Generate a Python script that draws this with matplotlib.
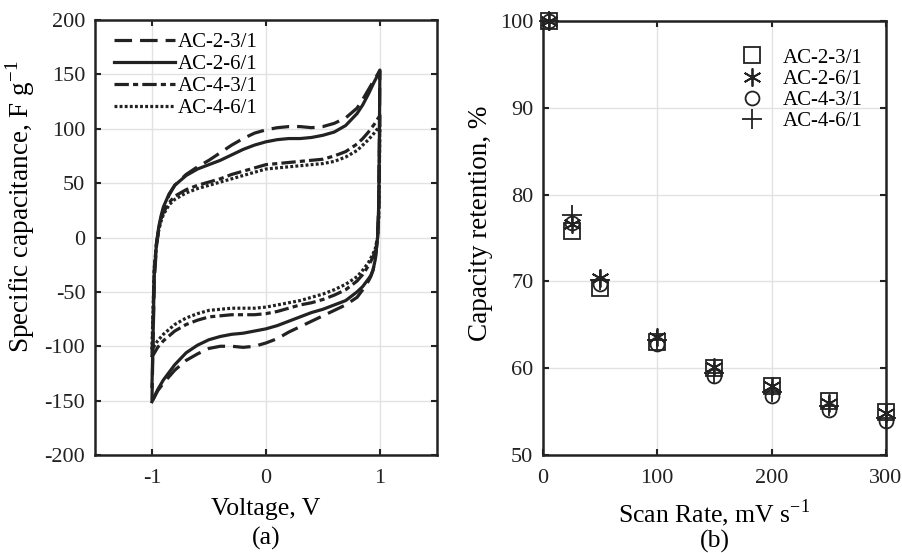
import matplotlib
matplotlib.use("Agg")
import matplotlib.pyplot as plt

plt.rcParams['font.family'] = ['Liberation Serif', 'DejaVu Serif']
plt.rcParams['mathtext.fontset'] = 'custom'
plt.rcParams['mathtext.rm'] = 'Liberation Serif'
plt.rcParams['axes.unicode_minus'] = False
plt.rcParams['font.size'] = 16

# --- (a) CV curves ---
v_up = [-1.0, -0.99, -0.98, -0.96, -0.94, -0.92, -0.9, -0.85, -0.8, -0.7, -0.6, -0.5, -0.4, -0.3,
        -0.2, -0.1, 0.0, 0.1, 0.2, 0.3, 0.4, 0.5, 0.6, 0.7, 0.8, 0.85, 0.9, 0.95, 0.98, 1.0]
v_dn = [1.0, 0.995, 0.99, 0.98, 0.96, 0.94, 0.92, 0.9, 0.85, 0.8, 0.7, 0.6, 0.5, 0.4, 0.3, 0.2,
        0.1, 0.0, -0.1, -0.2, -0.3, -0.4, -0.5, -0.6, -0.7, -0.8, -0.9, -0.95, -1.0]

ac23_up = [-150, -95, -40, -8, 8, 18, 26, 39, 48, 58, 65, 71, 78, 85, 91, 96, 99, 101, 102, 102,
           101, 102, 105, 110, 119, 127, 136, 145, 150, 154]
ac23_dn = [154, 80, 30, 0, -20, -30, -36, -40, -48, -55, -62, -67, -72, -77, -82, -87, -93, -97,
           -100, -101, -100, -100, -102, -107, -113, -122, -134, -141, -151]

ac26_up = [-137, -90, -35, -5, 10, 20, 28, 40, 48, 57, 63, 67, 71, 76, 81, 85, 88, 90, 91, 91,
           92, 94, 97, 103, 114, 122, 132, 143, 149, 153]
ac26_dn = [153, 80, 30, 0, -20, -30, -35, -38, -45, -50, -58, -62, -66, -69, -73, -77, -81, -84,
           -86, -88, -89, -91, -94, -99, -106, -117, -131, -140, -151]

ac43_up = [-110, -70, -30, -5, 8, 17, 23, 32, 38, 44, 48, 51, 54, 58, 61, 64, 67, 68, 69, 70,
           71, 72, 75, 79, 86, 91, 97, 104, 109, 112]
ac43_dn = [112, 60, 20, 0, -12, -18, -22, -26, -34, -40, -48, -53, -57, -60, -62, -65, -68, -70,
           -71, -71, -71, -72, -73, -76, -80, -86, -95, -101, -110]

ac46_up = [-103, -65, -28, -5, 7, 15, 21, 30, 35, 41, 45, 48, 51, 54, 57, 60, 63, 64, 65, 66,
           67, 68, 70, 74, 80, 85, 90, 96, 100, 103]
ac46_dn = [103, 55, 18, 0, -10, -15, -19, -23, -30, -36, -43, -48, -52, -55, -58, -60, -62, -64,
           -65, -65, -65, -66, -67, -70, -74, -80, -89, -95, -103]

labels = ['AC-2-3/1', 'AC-2-6/1', 'AC-4-3/1', 'AC-4-6/1']

# --- (b) capacity retention ---
scan_rate = [5, 25, 50, 100, 150, 200, 250, 300]
ret_ac23 = [100, 75.8, 69.2, 63.0, 60.0, 57.9, 56.2, 54.9]
ret_ac26 = [100, 76.6, 70.4, 63.6, 60.1, 57.9, 56.0, 54.8]
ret_ac43 = [100, 76.7, 69.7, 62.8, 59.1, 56.8, 55.2, 53.9]
ret_ac46 = [100, 77.6, 70.1, 63.3, 59.5, 57.3, 55.6, 54.3]

ink = '#222222'
grid_c = '#e2e2e2'
ylab_fs = 19.5
xlab_fs = 18.5
leg_fs = 15

fig = plt.figure(figsize=(9.02, 5.53), dpi=100)
ax1 = fig.add_axes([0.1053, 0.1772, 0.379, 0.7866])
ax2 = fig.add_axes([0.602, 0.1772, 0.380, 0.785])

styles = [(0, (5.5, 2.5)), '-', (0, (4.5, 1.3, 1.6, 1.3)), (0, (0.9, 0.7))]
series = [(ac23_up, ac23_dn), (ac26_up, ac26_dn), (ac43_up, ac43_dn), (ac46_up, ac46_dn)]
for (up, dn), ls, lab in zip(series, styles, labels):
    ax1.plot(v_up + v_dn, up + dn, color=ink, lw=2.3, ls=ls, label=lab)

ax1.set_xlim(-1.5, 1.5)
ax1.set_ylim(-200, 200)
ax1.set_xticks([-1, 0, 1])
ax1.set_yticks(range(-200, 201, 50))
ax1.set_xlabel('Voltage, V', fontsize=xlab_fs, labelpad=7)
ax1.set_ylabel(r'Specific capacitance, F g$^{\mathregular{-1}}$', fontsize=ylab_fs)
ax1.yaxis.set_label_coords(-0.17, 0.571)
ax1.text(0.5, -0.192, '(a)', transform=ax1.transAxes, ha='center', va='center', fontsize=xlab_fs)
ax1.legend(loc='upper left', bbox_to_anchor=(0.02, 1.0), frameon=False, fontsize=leg_fs,
           handlelength=2.9, handletextpad=0.15, labelspacing=0.12, borderaxespad=0.2,
           borderpad=0.4)

markers = ['s', (6, 2, 0), 'o', '+']
msizes = [11, 13, 10, 15]
rets = [ret_ac23, ret_ac26, ret_ac43, ret_ac46]
for r, m, ms, lab in zip(rets, markers, msizes, labels):
    ax2.plot(scan_rate, r, ls='none', marker=m, ms=ms, mfc='none', mec=ink, mew=1.3,
             label=lab, clip_on=False, zorder=5)
ax2.set_xlim(0, 300)
ax2.set_ylim(50, 100)
ax2.set_xticks([0, 100, 200, 300])
ax2.set_yticks(range(50, 101, 10))
ax2.set_xlabel(r'Scan Rate, mV s$^{\mathregular{-1}}$', fontsize=xlab_fs, labelpad=7)
ax2.set_ylabel('Capacity retention, %', fontsize=ylab_fs)
ax2.yaxis.set_label_coords(-0.146, 0.533)
ax2.text(0.5, -0.2, '(b)', transform=ax2.transAxes, ha='center', va='center', fontsize=xlab_fs)
ax2.legend(loc='upper right', bbox_to_anchor=(1.012, 1.0), frameon=False, fontsize=leg_fs,
           handletextpad=0.8, labelspacing=0.08, borderaxespad=0.9, borderpad=0.4,
           handlelength=1.4)

for ax in (ax1, ax2):
    ax.grid(True, color=grid_c, lw=1.0)
    ax.set_axisbelow(True)
    ax.tick_params(direction='in', top=True, right=True, length=4, width=1.5,
                   colors=ink, labelcolor=ink)
    ax.tick_params(axis='y', pad=7)
    ax.tick_params(axis='x', pad=10)
    for s in ax.spines.values():
        s.set_linewidth(1.8)
        s.set_color(ink)

fig.savefig('out.png', dpi=100)
